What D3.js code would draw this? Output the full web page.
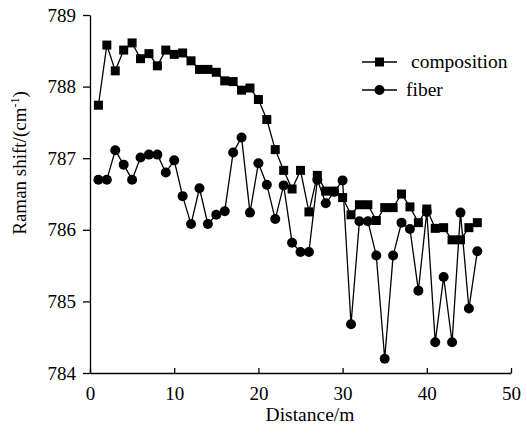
<!DOCTYPE html>
<html>
<head>
<meta charset="utf-8">
<script src="https://cdn.jsdelivr.net/npm/d3@7"></script>
<style>
  body { margin: 0; background: #fff; }
  svg text { font-family: "Liberation Serif", "Times New Roman", Tinos, "DejaVu Serif", "Noto Serif", serif; fill: #000; }
</style>
</head>
<body>
<div id="chart"></div>
<script>
// distance in metres, 1..46
var distance = d3.range(1, 47);

var composition = [787.74, 788.58, 788.22, 788.51, 788.61, 788.39, 788.46, 788.29, 788.51, 788.45,
    788.47, 788.36, 788.24, 788.24, 788.20, 788.08, 788.07, 787.95, 787.98, 787.82,
    787.54, 787.12, 786.83, 786.57, 786.83, 786.25, 786.76, 786.54, 786.54, 786.45,
    786.21, 786.35, 786.35, 786.13, 786.31, 786.31, 786.50, 786.32, 786.10, 786.29,
    786.02, 786.03, 785.86, 785.86, 786.03, 786.10];

var fiber = [786.70, 786.70, 787.11, 786.91, 786.70, 787.01, 787.05, 787.05, 786.80, 786.97,
    786.47, 786.08, 786.58, 786.08, 786.21, 786.26, 787.08, 787.29, 786.24, 786.93,
    786.63, 786.15, 786.62, 785.82, 785.69, 785.69, 786.70, 786.37, 786.53, 786.69,
    784.68, 786.12, 786.12, 785.64, 784.20, 785.64, 786.10, 786.01, 785.15, 786.25,
    784.43, 785.34, 784.43, 786.24, 784.90, 785.70];

var xTicks = [0, 10, 20, 30, 40, 50];
var yTicks = [784, 785, 786, 787, 788, 789];

var width = 527, height = 433;
var serif = "'Liberation Serif', 'Times New Roman', Tinos, 'DejaVu Serif', serif";

var svg = d3.select("#chart").append("svg")
    .attr("width", width)
    .attr("height", height);

var x = d3.scaleLinear().domain([0, 50]).range([90, 511]);
var y = d3.scaleLinear().domain([784, 789]).range([373, 15]);

// axes
var xAxis = svg.append("g")
    .attr("transform", "translate(0," + y(784) + ")")
    .call(d3.axisBottom(x).tickValues(xTicks).tickFormat(d3.format("d"))
        .tickSizeInner(-5).tickSizeOuter(0).tickPadding(14));

var yAxis = svg.append("g")
    .attr("transform", "translate(" + x(0) + ",0)")
    .call(d3.axisLeft(y).tickValues(yTicks).tickFormat(d3.format("d"))
        .tickSizeInner(7).tickSizeOuter(0).tickPadding(7));

[xAxis, yAxis].forEach(function(g) {
    g.attr("font-family", serif).attr("font-size", 19);
    g.select(".domain").attr("stroke", "#000").attr("stroke-width", 1.3);
    g.selectAll(".tick line").attr("stroke", "#000").attr("stroke-width", 1.3);
    g.selectAll(".tick text").attr("fill", "#000");
});

// axis titles
svg.append("text")
    .attr("x", 310)
    .attr("y", 421)
    .attr("text-anchor", "middle")
    .style("font-size", "19.5px")
    .text("Distance/m");

var ylab = svg.append("text")
    .attr("transform", "translate(26,163) rotate(-90)")
    .attr("text-anchor", "middle")
    .style("font-size", "19px");
ylab.append("tspan").text("Raman shift/(cm");
ylab.append("tspan").attr("dy", -7).style("font-size", "12px").text("-1");
ylab.append("tspan").attr("dy", 7).text(")");

var line = d3.line()
    .x(function(d, i) { return x(distance[i]); })
    .y(function(d) { return y(d); });

// composition series
svg.append("path")
    .datum(composition)
    .attr("fill", "none")
    .attr("stroke", "#000")
    .attr("stroke-width", 1.3)
    .attr("d", line);

svg.append("g").selectAll("rect")
    .data(composition)
    .join("rect")
    .attr("x", function(d, i) { return x(distance[i]) - 4.5; })
    .attr("y", function(d) { return y(d) - 4.5; })
    .attr("width", 9)
    .attr("height", 9)
    .attr("fill", "#000");

// fiber series
svg.append("path")
    .datum(fiber)
    .attr("fill", "none")
    .attr("stroke", "#000")
    .attr("stroke-width", 1.3)
    .attr("d", line);

svg.append("g").selectAll("circle")
    .data(fiber)
    .join("circle")
    .attr("cx", function(d, i) { return x(distance[i]); })
    .attr("cy", function(d) { return y(d); })
    .attr("r", 5)
    .attr("fill", "#000");

// legend
var legend = svg.append("g");
var legendItems = [
    { name: "composition", shape: "square", y: 62, tx: 411 },
    { name: "fiber", shape: "circle", y: 90, tx: 406 }
];
legendItems.forEach(function(it) {
    legend.append("line")
        .attr("x1", 362).attr("x2", 397)
        .attr("y1", it.y).attr("y2", it.y)
        .attr("stroke", "#000").attr("stroke-width", 1.3);
    if (it.shape === "square") {
        legend.append("rect")
            .attr("x", 379.5 - 4.5).attr("y", it.y - 4.5)
            .attr("width", 9).attr("height", 9).attr("fill", "#000");
    } else {
        legend.append("circle")
            .attr("cx", 379.5).attr("cy", it.y).attr("r", 5).attr("fill", "#000");
    }
    legend.append("text")
        .attr("x", it.tx)
        .attr("y", it.y + 6)
        .style("font-size", "19.5px")
        .text(it.name);
});
</script>
</body>
</html>
